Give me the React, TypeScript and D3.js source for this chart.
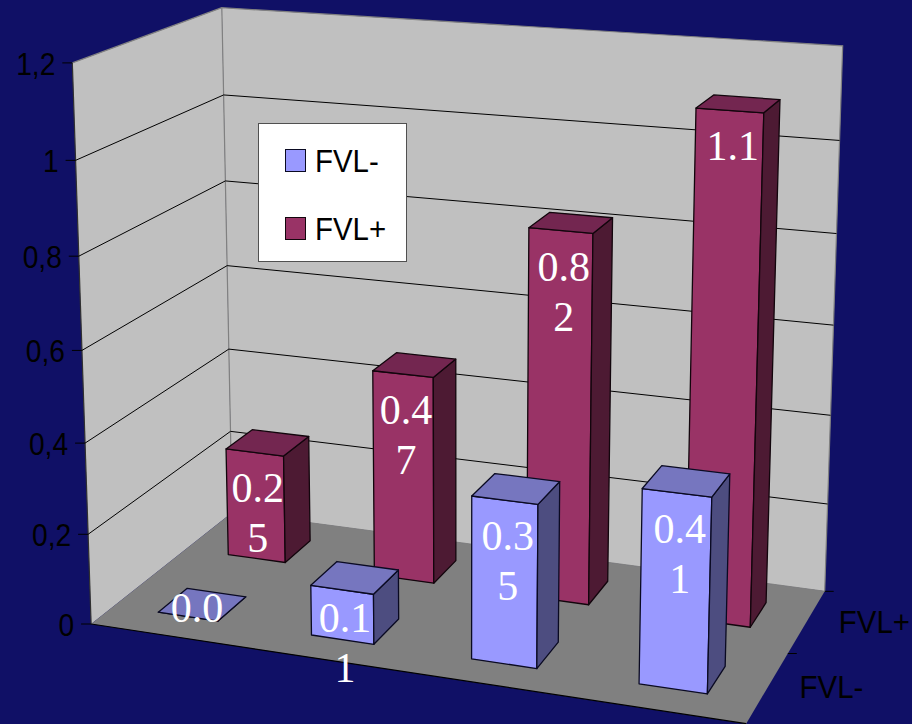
import React from "react";
import * as d3 from "d3";

// Chart values
const categories = ["A", "B", "C", "D"];
const seriesNames = ["FVL-", "FVL+"];
const fvlMinus = [0, 0.11, 0.35, 0.41];
const fvlPlus = [0.25, 0.47, 0.82, 1.1];
const valueTicks = [0, 0.2, 0.4, 0.6, 0.8, 1, 1.2];

const WIDTH = 912;
const HEIGHT = 724;

const palette: Record<string, { front: string; top: string; side: string; edge: string }> = {
  "FVL-": { front: "#9999ff", top: "#7676bf", side: "#4d4d80", edge: "#0a0a22" },
  "FVL+": { front: "#993366", top: "#732650", side: "#4d1a33", edge: "#12050c" },
};

// World coordinates: u runs along the categories, v runs into the depth, h is bar height.
const heightScale = d3.scaleLinear().domain([0, 1.2]).range([0, 1]);
const uScale = d3.scaleBand<string>().domain(categories).range([0, 1]).paddingInner(0.605).paddingOuter(0.295);
const vScale = d3.scaleBand<string>().domain(seriesNames).range([0, 1]).paddingInner(0.6).paddingOuter(0.3);

// Camera calibration: world (u, v, h) paired with its place on the canvas.
const cameraPairs: [number, number, number, number, number][] = [
  [0, 0, 0, 92, 624],
  [1, 0, 0, 746, 724],
  [0, 1, 0, 231, 513],
  [1, 1, 0, 825, 591],
  [0, 0, 0.5, 82, 350],
  [0, 1, 0.5, 228, 265],
  [1, 1, 0.5, 833, 325],
  [0, 0, 1, 71.5, 63],
  [0, 1, 1, 222, 8],
  [1, 1, 1, 843, 46],
];

// Least squares fit of an 11-parameter projective camera.
function fitCamera(pairs: typeof cameraPairs): number[] {
  const rows: number[][] = [];
  const rhs: number[] = [];
  for (const [u, v, h, x, y] of pairs) {
    rows.push([u, v, h, 1, 0, 0, 0, 0, -x * u, -x * v, -x * h]);
    rhs.push(x);
    rows.push([0, 0, 0, 0, u, v, h, 1, -y * u, -y * v, -y * h]);
    rhs.push(y);
  }
  const n = 11;
  const A = d3.range(n).map((i) =>
    [...d3.range(n).map((j) => d3.sum(rows, (r) => r[i] * r[j])), d3.sum(rows, (r, k) => r[i] * rhs[k])]
  );
  for (let c = 0; c < n; c++) {
    let p = c;
    for (let r = c + 1; r < n; r++) if (Math.abs(A[r][c]) > Math.abs(A[p][c])) p = r;
    [A[c], A[p]] = [A[p], A[c]];
    for (let r = 0; r < n; r++) {
      if (r === c) continue;
      const f = A[r][c] / A[c][c];
      for (let k = c; k <= n; k++) A[r][k] -= f * A[c][k];
    }
  }
  return d3.range(n).map((i) => A[i][n] / A[i][i]);
}

const cam = fitCamera(cameraPairs);

type Pt = [number, number];
function project(u: number, v: number, value: number): Pt {
  const h = heightScale(value);
  const w = cam[8] * u + cam[9] * v + cam[10] * h + 1;
  return [
    (cam[0] * u + cam[1] * v + cam[2] * h + cam[3]) / w,
    (cam[4] * u + cam[5] * v + cam[6] * h + cam[7]) / w,
  ];
}

const polygon = d3.line<Pt>().curve(d3.curveLinearClosed);
const segment = d3.line<Pt>();
const MAX = valueTicks[valueTicks.length - 1];

// Labels wrap every three characters, the way the narrow bars force them to.
const wrapLabel = (value: number) => (value === 0 ? "0.0" : String(value)).match(/.{1,3}/g) as string[];

function Bar({ series, category, value }: { series: string; category: string; value: number }) {
  const u0 = uScale(category)!;
  const u1 = u0 + uScale.bandwidth();
  const v0 = vScale(series)!;
  const v1 = v0 + vScale.bandwidth();
  const c = palette[series];
  const stroke = { stroke: c.edge, strokeWidth: 1.3, strokeLinejoin: "round" as const };
  const frontTop = project((u0 + u1) / 2, v0, value);
  const frontBase = project((u0 + u1) / 2, v0, 0);
  const faceHeight = frontBase[1] - frontTop[1];
  const drop = Math.min(50, 5 + 0.75 * faceHeight);
  const shift = 3 + 6 * (1 - Math.min(faceHeight / 40, 1));
  const lineGap = 50;
  return (
    <g>
      <path d={polygon([project(u0, v0, 0), project(u1, v0, 0), project(u1, v0, value), project(u0, v0, value)])!} fill={c.front} {...stroke} />
      <path d={polygon([project(u1, v0, 0), project(u1, v1, 0), project(u1, v1, value), project(u1, v0, value)])!} fill={c.side} {...stroke} />
      <path d={polygon([project(u0, v0, value), project(u1, v0, value), project(u1, v1, value), project(u0, v1, value)])!} fill={c.top} {...stroke} />
      {wrapLabel(value).map((line, i) => (
        <text
          key={i}
          x={frontTop[0] + shift}
          y={frontTop[1] + drop + i * lineGap}
          textAnchor="middle"
          fontFamily="'Liberation Serif', serif"
          fontSize={42}
          fill="#ffffff"
        >
          {line}
        </text>
      ))}
    </g>
  );
}

// Arial set slightly condensed, as on the axes and legend.
function SansText({ x, y, anchor, squeeze = 0.88, children }: { x: number; y: number; anchor: "start" | "end"; squeeze?: number; children: string }) {
  return (
    <text
      transform={`translate(${x},${y}) scale(${squeeze},1)`}
      textAnchor={anchor}
      fontFamily="'Liberation Sans', sans-serif"
      fontSize={32}
      fill="#000000"
    >
      {children}
    </text>
  );
}

export default function App() {
  const backSeries = seriesNames[1];
  const frontSeries = seriesNames[0];
  return (
    <svg width={WIDTH} height={HEIGHT} viewBox={`0 0 ${WIDTH} ${HEIGHT}`} style={{ position: "absolute", left: 0, top: 0, display: "block" }}>
      <rect width={WIDTH} height={HEIGHT} fill="#101066" />

      {/* Walls and floor */}
      <path d={polygon([project(0, 0, 0), project(0, 1, 0), project(0, 1, MAX), project(0, 0, MAX)])!} fill="#c0c0c0" />
      <path d={polygon([project(0, 1, 0), project(1, 1, 0), project(1, 1, MAX), project(0, 1, MAX)])!} fill="#c0c0c0" stroke="#808080" strokeWidth={1.2} />
      <path d={segment([project(0, 0, MAX), project(0, 1, MAX)])!} stroke="#808080" strokeWidth={1.2} fill="none" />
      <path d={segment([project(0, 0, 0), project(0, 0, MAX)])!} stroke="#303030" strokeWidth={1.2} fill="none" />
      <path d={polygon([project(0, 0, 0), project(1, 0, 0), project(1, 1, 0), project(0, 1, 0)])!} fill="#808080" />
      <path d={segment([project(0, 0, 0), project(1, 0, 0)])!} stroke="#000000" strokeWidth={1.2} fill="none" />

      {/* Gridlines and value axis */}
      {valueTicks.map((t) => {
        const a = project(0, 0, t);
        const b = project(0, 1, t);
        const c = project(1, 1, t);
        const grid = t > 0 && t < MAX;
        return (
          <g key={t}>
            {grid && <path d={segment([a, b, c])!} fill="none" stroke="#000000" strokeWidth={1} />}
            <path d={segment([[a[0] - 10, a[1]], a])!} stroke="#000000" strokeWidth={1} fill="none" />
            <SansText x={a[0] - 17} y={a[1] + 12} anchor="end">
              {String(t).replace(".", ",")}
            </SansText>
          </g>
        );
      })}

      {/* Depth axis */}
      {[0.5, 1].map((v) => {
        const p = project(1, v, 0);
        return <path key={v} d={segment([p, [p[0] + 9, p[1]]])!} stroke="#000000" strokeWidth={1} fill="none" />;
      })}
      {seriesNames.map((s) => {
        const p = project(1, vScale(s)! + vScale.bandwidth() / 2, 0);
        return (
          <SansText key={s} x={p[0] + 32} y={p[1] + 11} anchor="start" squeeze={0.92}>
            {s}
          </SansText>
        );
      })}

      {/* Bars, back row first */}
      {categories.map((cat, i) => (
        <Bar key={cat} series={backSeries} category={cat} value={fvlPlus[i]} />
      ))}
      {categories.map((cat, i) => (
        <Bar key={cat} series={frontSeries} category={cat} value={fvlMinus[i]} />
      ))}

      {/* Legend */}
      <rect x={258.5} y={123.5} width={148} height={138} fill="#ffffff" stroke="#505050" strokeWidth={1} />
      {seriesNames.map((s, i) => (
        <g key={s}>
          <rect x={285.5} y={149.5 + i * 68} width={20} height={22} fill={palette[s].front} stroke={palette[s].edge} strokeWidth={1} />
          <SansText x={315} y={172 + i * 67.5} anchor="start" squeeze={0.92}>
            {s}
          </SansText>
        </g>
      ))}
    </svg>
  );
}
